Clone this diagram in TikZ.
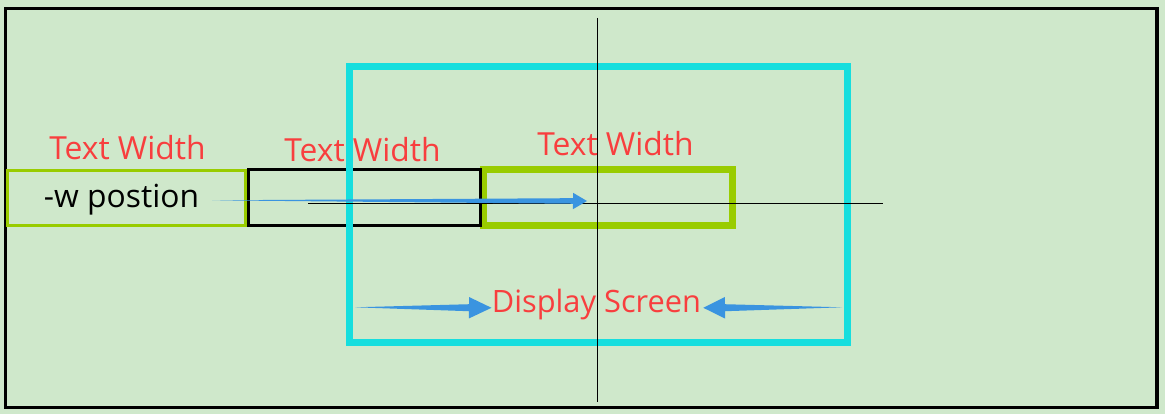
\documentclass[tikz,border=0pt]{standalone}
\usepackage{fontspec}
\setmainfont{Open Sans}
\usetikzlibrary{calc}
\definecolor{bgc}{RGB}{207,232,203}
\definecolor{redt}{RGB}{248,62,62}
\definecolor{arrowblue}{RGB}{58,148,224}
\definecolor{cyanb}{RGB}{22,222,222}
\definecolor{greenb}{RGB}{153,204,0}
\newcommand\taperarrow[5]{%
  \path coordinate (hb) at ($(#2)!#3!(#1)$);
  \fill[arrowblue] (#1) -- ($(hb)!#5!90:(#2)$) -- ($(hb)!#4!90:(#2)$) -- (#2)
    -- ($(hb)!#4!-90:(#2)$) -- ($(hb)!#5!-90:(#2)$) -- cycle;}
\begin{document}
\begin{tikzpicture}[x=1pt,y=-1pt,
  box/.style={draw,rectangle,inner sep=0pt,outer sep=0pt},
  lbl/.style={text=redt,anchor=base,inner sep=0pt,font=\fontsize{31.8}{38}\selectfont},
  blk/.style={text=black,anchor=base,inner sep=0pt,font=\fontsize{31.8}{38}\selectfont},
  axis/.style={draw=black,line width=1.1pt}]
\fill[bgc] (0,0) rectangle (1165,414);
\useasboundingbox (0,0) rectangle (1165,414);
\node[box,line width=3.5pt,minimum width=1151.5pt,minimum height=399pt] (frame) at (581.25,208) {};
\node[box,draw=greenb,line width=3pt,minimum width=238.2pt,minimum height=55pt] (leftbox) at (126.4,198) {};
\node[box,draw=greenb,line width=6.5pt,minimum width=249pt,minimum height=56pt] (rightbox) at (608,197.5) {};
\node[box,draw=black,line width=3pt,minimum width=231.8pt,minimum height=56.3pt] (midbox) at (364.4,197.2) {};
\node[box,draw=cyanb,line width=7pt,minimum width=498pt,minimum height=276pt] (screen) at (598.5,204.5) {};
% axes
\coordinate (vtop) at (597.5,18);
\coordinate (vbot) at (597.5,402);
\coordinate (hleft) at (308,203.3);
\coordinate (hright) at (882.7,203.3);
\draw[axis] (vtop) -- (vbot);
\draw[axis] (hleft) -- (hright);
% texts
\node[lbl] (tw1) at (127.5,160) {Text Width};
\node[lbl] (tw2) at (362.5,162) {Text Width};
\node[lbl] (tw3) at (615.5,155.7) {Text Width};
\node[blk] (wpos) at (121.5,208) {-w postion};
\node[lbl,font=\fontsize{30.8}{37}\selectfont] (disp) at (596.5,312.7) {Display Screen};
% arrows
\coordinate (a1s) at (212,200.3);
\coordinate (a1t) at (587,201);
\taperarrow{a1s}{a1t}{14pt}{8.2pt}{2.8pt}
\coordinate (a2s) at (355,307.3);
\coordinate (a2t) at (491.5,307.8);
\taperarrow{a2s}{a2t}{22.5pt}{10.7pt}{3.5pt}
\coordinate (a3s) at (842,307.3);
\coordinate (a3t) at (703.3,307.8);
\taperarrow{a3s}{a3t}{21.7pt}{10.8pt}{3.5pt}
\end{tikzpicture}
\end{document}
